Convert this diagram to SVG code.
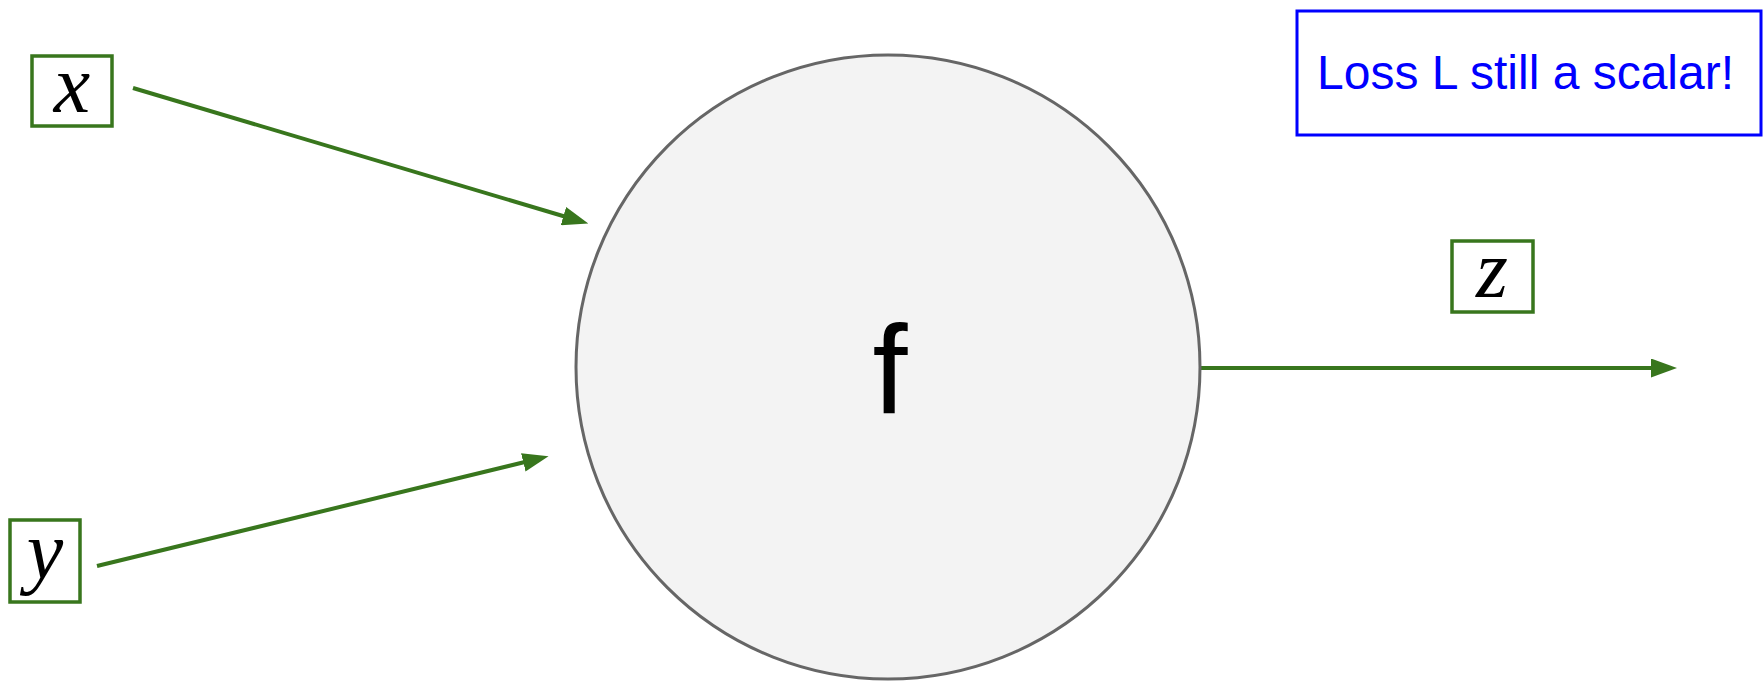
<svg xmlns="http://www.w3.org/2000/svg" width="1764" height="682" viewBox="0 0 1764 682">
<style>
.box{fill:#ffffff;stroke:#38761d;stroke-width:3.5}
.var{font-family:"Liberation Serif","DejaVu Serif",serif;font-style:italic;font-size:82px;fill:#000;text-anchor:middle}
.conn{stroke:#38761d;stroke-width:4;fill:none}
</style>
<defs>
<marker id="ah" markerUnits="userSpaceOnUse" markerWidth="26" markerHeight="19" refX="10" refY="9.5" orient="auto">
<path d="M0,0 L26,9.5 L0,19 Z" fill="#38761d"/>
</marker>
</defs>
<rect width="1764" height="682" fill="#ffffff"/>
<g id="connectors">
<line class="conn" x1="133" y1="88" x2="573" y2="219" marker-end="url(#ah)"/>
<line class="conn" x1="97" y1="566" x2="533" y2="460" marker-end="url(#ah)"/>
<line class="conn" x1="1200" y1="368" x2="1661" y2="368" marker-end="url(#ah)"/>
</g>
<g id="node-f">
<circle cx="888" cy="367" r="312" fill="#f3f3f3" stroke="#666666" stroke-width="3"/>
<text x="890" y="414" font-family="'Liberation Sans',Arial,sans-serif" font-size="126" text-anchor="middle" fill="#000">f</text>
</g>
<g id="node-x">
<rect class="box" x="32" y="56" width="80" height="70"/>
<text class="var" x="72" y="112">x</text>
</g>
<g id="node-y">
<rect class="box" x="10" y="520" width="70" height="82"/>
<text class="var" x="45" y="578">y</text>
</g>
<g id="node-z">
<rect class="box" x="1452" y="241" width="81" height="71"/>
<text class="var" x="1492" y="297">z</text>
</g>
<g id="note">
<rect x="1297" y="11" width="464" height="124" fill="#ffffff" stroke="#0000ff" stroke-width="3"/>
<text x="1317" y="89" font-family="'Liberation Sans',Arial,sans-serif" font-size="48" fill="#0000ff">Loss L still a scalar!</text>
</g>
</svg>
